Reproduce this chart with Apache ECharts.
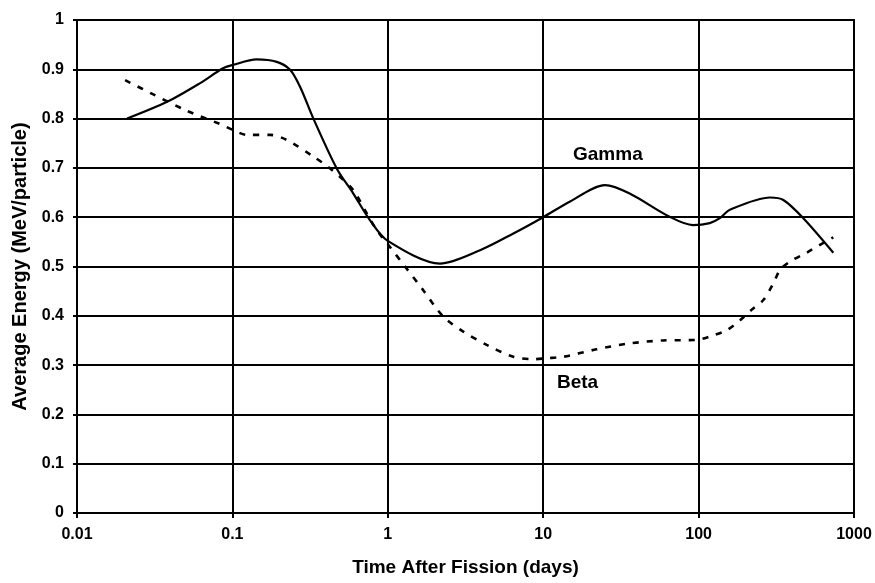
<!DOCTYPE html>
<html>
<head>
<meta charset="utf-8">
<script src="https://cdn.jsdelivr.net/npm/echarts@6/dist/echarts.min.js"></script>
<style>
  html, body { margin: 0; padding: 0; background: #fff; }
  #chart { width: 875px; height: 583px; }
</style>
</head>
<body>
<div id="chart"></div>
<script>
// time after fission (days) and average energy (MeV/particle)
const gammaDays = [0.021, 0.038, 0.062, 0.087, 0.101, 0.143, 0.193, 0.235, 0.272, 0.332, 0.469, 0.6, 0.767, 1.0, 2.17, 3.92, 6.43, 10, 14.9, 25, 36, 65, 92, 118, 137, 159, 288, 351, 472, 736]
const gammaEnergy = [0.8, 0.834, 0.872, 0.902, 0.909, 0.92, 0.915, 0.899, 0.865, 0.8, 0.699, 0.648, 0.594, 0.552, 0.506, 0.533, 0.567, 0.6, 0.632, 0.665, 0.648, 0.601, 0.584, 0.588, 0.598, 0.615, 0.64, 0.635, 0.598, 0.528]

const betaDays = [0.0204, 0.031, 0.0508, 0.0832, 0.101, 0.124, 0.175, 0.223, 0.332, 0.405, 0.492, 0.6, 0.731, 0.849, 1.03, 1.32, 1.69, 2.28, 3.06, 4.33, 6.42, 8.64, 10.5, 13.5, 22, 36, 59, 97, 118, 152, 185, 219, 261, 303, 334, 387, 496, 604, 736]
const betaEnergy = [0.878, 0.849, 0.816, 0.789, 0.777, 0.767, 0.767, 0.757, 0.723, 0.704, 0.682, 0.655, 0.608, 0.574, 0.54, 0.496, 0.452, 0.398, 0.368, 0.341, 0.317, 0.312, 0.314, 0.317, 0.332, 0.344, 0.35, 0.351, 0.358, 0.371, 0.391, 0.412, 0.432, 0.466, 0.493, 0.51, 0.528, 0.544, 0.559]

const pairs = (xs, ys) => xs.map((x, i) => [x, ys[i]])

const font = 'Liberation Sans, Arial, sans-serif'
const chart = echarts.init(document.getElementById('chart'))

chart.setOption({
  backgroundColor: '#fff',
  animation: false,
  grid: {
    left: 77,
    right: 21,
    top: 20,
    bottom: 70,
    show: true,
    borderColor: '#000',
    borderWidth: 2
  },
  xAxis: {
    type: 'log',
    logBase: 10,
    min: 0.01,
    max: 1000,
    name: 'Time After Fission (days)',
    nameLocation: 'middle',
    nameGap: 45,
    nameTextStyle: { color: '#000', fontFamily: font, fontWeight: 'bold', fontSize: 19 },
    axisLine: { lineStyle: { color: '#000', width: 2 } },
    axisTick: { show: true, inside: false, length: 5, lineStyle: { color: '#000', width: 2 } },
    minorTick: { show: false },
    axisLabel: {
      color: '#000', fontFamily: font, fontWeight: 'bold', fontSize: 16, margin: 14,
      formatter: (v) => String(v)
    },
    splitLine: { show: true, lineStyle: { color: '#000', width: 2 } }
  },
  yAxis: {
    type: 'value',
    min: 0,
    max: 1,
    interval: 0.1,
    name: 'Average Energy (MeV/particle)',
    nameLocation: 'middle',
    nameGap: 45,
    nameTextStyle: { color: '#000', fontFamily: font, fontWeight: 'bold', fontSize: 20 },
    axisLine: { show: true, lineStyle: { color: '#000', width: 2 } },
    axisTick: { show: true, inside: false, length: 4, lineStyle: { color: '#000', width: 2 } },
    axisLabel: { color: '#000', fontFamily: font, fontWeight: 'bold', fontSize: 16, margin: 13 },
    splitLine: { show: true, lineStyle: { color: '#000', width: 2 } }
  },
  series: [
    {
      name: 'Gamma',
      type: 'line',
      smooth: 0.3,
      showSymbol: false,
      lineStyle: { color: '#000', width: 2.2 },
      data: pairs(gammaDays, gammaEnergy)
    },
    {
      name: 'Beta',
      type: 'line',
      smooth: 0.3,
      showSymbol: false,
      lineStyle: { color: '#000', width: 2.6, type: [6, 8] },
      data: pairs(betaDays, betaEnergy)
    }
  ],
  graphic: [
    {
      type: 'text',
      left: 573,
      top: 145,
      style: { text: 'Gamma', fill: '#000', font: 'bold 19px ' + font }
    },
    {
      type: 'text',
      left: 557,
      top: 373,
      style: { text: 'Beta', fill: '#000', font: 'bold 19px ' + font }
    }
  ]
})
</script>
</body>
</html>
